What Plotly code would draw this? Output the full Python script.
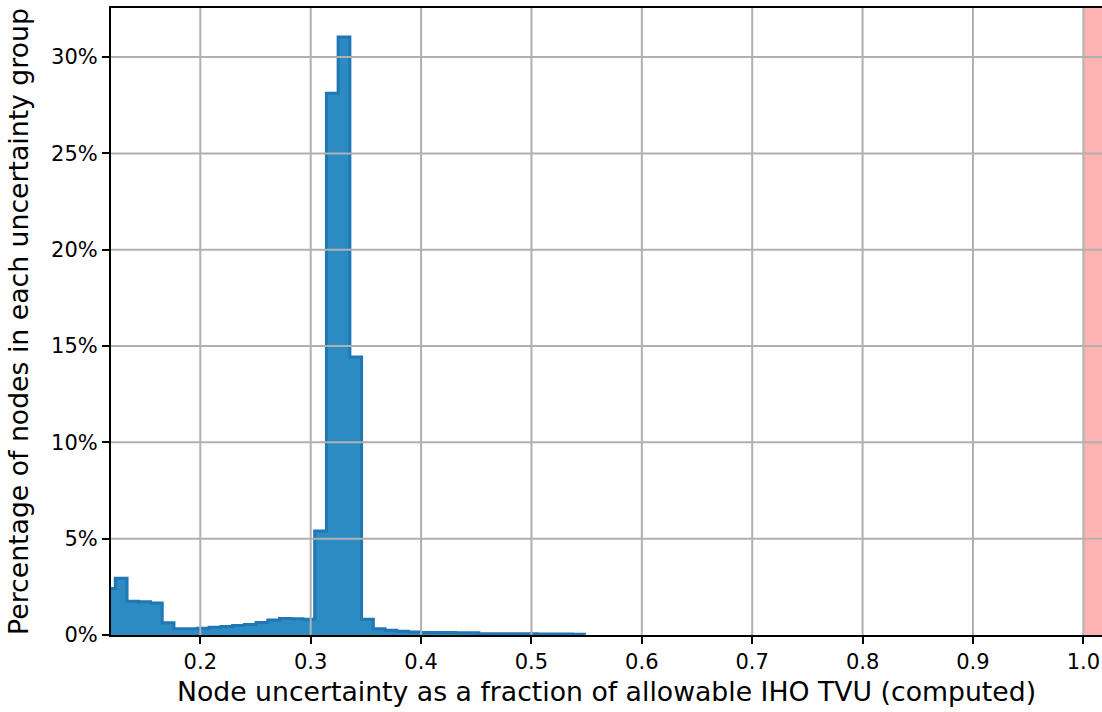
import numpy as np
import plotly.graph_objects as go

# ---- data ----
bin_start = 0.11238          # left edge of first (partially visible) bin
bin_width = 0.010625         # uniform histogram bin width
pct = [2.42, 2.95, 1.75, 1.73, 1.66, 0.63, 0.33, 0.32, 0.35, 0.40,
       0.44, 0.49, 0.55, 0.65, 0.78, 0.86, 0.84, 0.82, 5.40, 28.13,
       31.05, 14.43, 0.82, 0.32, 0.25, 0.20, 0.15, 0.13, 0.13, 0.13,
       0.12, 0.12, 0.07, 0.07, 0.06, 0.06, 0.06, 0.05, 0.05, 0.05,
       0.04]
x_ticks = [0.2, 0.3, 0.4, 0.5, 0.6, 0.7, 0.8, 0.9, 1.0]
x_tick_labels = ["0.2", "0.3", "0.4", "0.5", "0.6", "0.7", "0.8", "0.9", "1.0"]
y_ticks = [0, 5, 10, 15, 20, 25, 30]
y_tick_labels = ["0%", "5%", "10%", "15%", "20%", "25%", "30%"]
threshold = 1.0
x_range = [0.1191, 1.0169]
y_range = [0, 32.55]

edges = bin_start + bin_width * np.arange(len(pct) + 1)
xs = list(edges)
ys = list(pct) + [0.0]

fig = go.Figure()
fig.add_trace(go.Scatter(
    x=xs, y=ys, mode="lines", line_shape="hv",
    line=dict(color="#1f77b4", width=3),
    fill="tozeroy", fillcolor="rgb(43,139,194)",
    hoverinfo="skip", showlegend=False))

shapes = []
shapes.append(dict(type="rect", xref="x", yref="paper", x0=threshold, x1=x_range[1] + 0.05,
                   y0=0, y1=1, fillcolor="rgba(255,0,0,0.3)", line_width=0, layer="below"))
for xv in x_ticks:
    shapes.append(dict(type="line", xref="x", yref="paper", x0=xv, x1=xv, y0=0, y1=1,
                       line=dict(color="#b0b0b0", width=2), layer="above"))
for yv in y_ticks[1:]:
    shapes.append(dict(type="line", xref="paper", yref="y", x0=0, x1=1, y0=yv, y1=yv,
                       line=dict(color="#b0b0b0", width=2), layer="above"))

font_family = "DejaVu Sans"
fig.update_layout(
    width=1102, height=712,
    margin=dict(l=111, r=0, t=8, b=77),
    paper_bgcolor="white", plot_bgcolor="white",
    shapes=shapes,
    font=dict(family=font_family, color="black"),
    xaxis=dict(range=x_range, tickvals=x_ticks, ticktext=x_tick_labels,
               showgrid=False, zeroline=False,
               showline=True, linecolor="black", linewidth=2, mirror=True,
               ticks="outside", ticklen=7, tickwidth=2, tickcolor="black",
               tickfont=dict(size=21, family=font_family, color="black"),
               title=dict(text="Node uncertainty as a fraction of allowable IHO TVU (computed)",
                          font=dict(size=26.7, family=font_family, color="black"), standoff=9)),
    yaxis=dict(range=y_range, tickvals=y_ticks, ticktext=y_tick_labels,
               showgrid=False, zeroline=False,
               showline=True, linecolor="black", linewidth=2, mirror=False,
               ticks="outside", ticklen=7, tickwidth=2, tickcolor="black",
               tickfont=dict(size=21, family=font_family, color="black"),
               title=dict(text="Percentage of nodes in each uncertainty group",
                          font=dict(size=26.7, family=font_family, color="black"), standoff=15)),
)

fig.write_html("out.html")
